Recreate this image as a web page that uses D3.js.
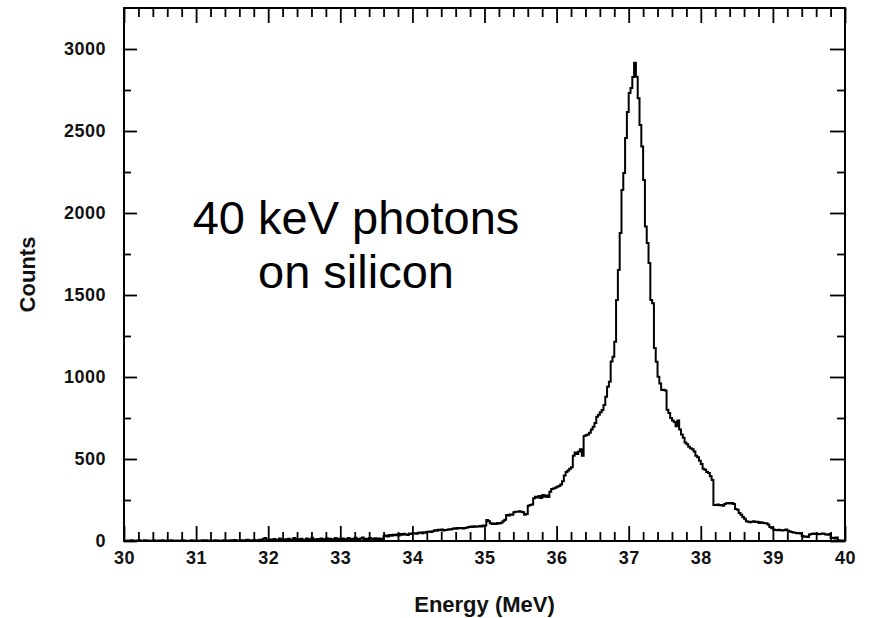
<!DOCTYPE html>
<html>
<head>
<meta charset="utf-8">
<script src="https://cdn.jsdelivr.net/npm/d3@7"></script>
<style>
  html, body { margin: 0; padding: 0; background: #ffffff; }
  svg { display: block; }
  .tick text { font-family: "Liberation Sans", Arial, sans-serif; font-weight: bold; font-size: 18px; fill: #111; letter-spacing: 0.5px; }
</style>
</head>
<body>
<svg id="chart" width="869" height="618"></svg>
<script>
// ---- data ----
const binLow = 30;       // MeV, lower edge of first bin
const binStep = 0.025;   // MeV, bin width
const counts3031 = [2,0,3,1,4,2,0,3,5,1, 2,4,0,3,1,2,5,0,2,3, 1,4,2,0,3,2,5,1,0,3, 2,1,4,3,0,2,1,5,3,2];
const counts3132 = [3,1,0,4,2,5,1,3,0,2, 4,1,3,2,0,5,2,3,1,4, 2,6,3,1,4,2,5,3,7,2, 4,3,6,2,5,8,4,14,18,6];
const counts3233 = [5,9,3,12,7,4,15,8,6,11, 3,14,9,5,18,7,10,4,13,8, 6,16,5,11,20,9,4,12,7,15, 10,6,17,8,13,5,11,19,9,14];
const counts3334 = [8,16,11,6,18,10,13,7,20,12, 9,15,22,11,14,8,19,13,10,17, 12,16,9,14,30,34,28,36,32,38, 35,40,33,42,38,44,40,37,45,42];
const counts3435 = [45,48,44,50,52,47,53,50,56,58, 55,60,65,62,68,66,70,64,67,69, 72,70,75,78,74,80,77,79,76,80, 82,86,88,85,90,87,89,92,88,95];
const counts3536 = [95,128,120,108,104,106,104,110,106,112, 120,130,159,155,162,160,175,179,178,182, 179,175,160,165,215,219,222,260,270,265, 275,262,280,270,278,268,300,317,320,325];
const counts3637 = [331,335,345,365,400,420,430,440,450,520, 540,530,545,560,520,640,645,650,660,680, 697,720,758,770,785,799,829,880,941,971, 1094,1124,1215,1470,1652,1878,2140,2244,2457,2616];
const counts3738 = [2732,2762,2829,2916,2831,2699,2537,2405,2201,1917, 1817,1695,1470,1450,1177,1093,1002,960,920,922, 918,800,780,750,735,725,700,735,680,650, 630,600,590,575,565,560,545,520,510,490];
const counts3839 = [470,440,435,420,415,395,372,219,219,222, 218,220,215,225,230,232,228,231,226,195, 190,171,160,146,135,120,118,115,118,120, 116,118,110,115,112,108,108,100,85,80];
const counts3940 = [70,67,65,68,66,64,67,70,62,58, 55,52,50,48,49,45,30,26,28,25, 40,43,45,42,44,41,43,45,44,40, 38,42,18,20,15,22,5,0,3,0];

const xMajorTicks = [30,31,32,33,34,35,36,37,38,39,40];
const yMajorTicks = [0,500,1000,1500,2000,2500,3000];
const xMinorTicks = d3.range(30, 40.0001, 0.2).filter(v => Math.abs(v - Math.round(v)) > 1e-6);
const yMinorTicks = [250,750,1250,1750,2250,2750];
const xTitle = "Energy (MeV)";
const yTitle = "Counts";
const noteLines = ["40 keV photons", "on silicon"];

// ---- build ----
const counts = [].concat(counts3031, counts3132, counts3233, counts3334, counts3435,
                         counts3536, counts3637, counts3738, counts3839, counts3940);
const pts = counts.map((c, i) => [binLow + i * binStep, c]);
pts.push([binLow + counts.length * binStep, counts[counts.length - 1]]);

const svg = d3.select("#chart");
const L = 124, R = 845, T = 8, B = 541;
const x = d3.scaleLinear().domain([30, 40]).range([L, R]);
const y = d3.scaleLinear().domain([0, 3250]).range([B, T]);

function styleAxis(g) {
  g.select(".domain").remove();
  g.selectAll(".tick line").attr("stroke", "#000").attr("stroke-width", 1.8);
}

// bottom
svg.append("g").attr("transform", `translate(0,${B})`)
  .call(d3.axisBottom(x).tickValues(xMinorTicks).tickSize(-9).tickFormat(""))
  .call(styleAxis);
svg.append("g").attr("transform", `translate(0,${B})`)
  .call(d3.axisBottom(x).tickValues(xMajorTicks).tickSize(-15).tickPadding(10).tickFormat(d3.format("d")))
  .call(styleAxis);
// top
svg.append("g").attr("transform", `translate(0,${T})`)
  .call(d3.axisTop(x).tickValues(xMinorTicks).tickSize(-9).tickFormat(""))
  .call(styleAxis);
svg.append("g").attr("transform", `translate(0,${T})`)
  .call(d3.axisTop(x).tickValues(xMajorTicks).tickSize(-15).tickFormat(""))
  .call(styleAxis);
// left
svg.append("g").attr("transform", `translate(${L},0)`)
  .call(d3.axisLeft(y).tickValues(yMinorTicks).tickSize(-7).tickFormat(""))
  .call(styleAxis);
svg.append("g").attr("transform", `translate(${L},0)`)
  .call(d3.axisLeft(y).tickValues(yMajorTicks).tickSize(-13).tickPadding(18).tickFormat(d3.format("d")))
  .call(styleAxis);
// right
svg.append("g").attr("transform", `translate(${R},0)`)
  .call(d3.axisRight(y).tickValues(yMinorTicks).tickSize(-8).tickFormat(""))
  .call(styleAxis);
svg.append("g").attr("transform", `translate(${R},0)`)
  .call(d3.axisRight(y).tickValues(yMajorTicks).tickSize(-15).tickFormat(""))
  .call(styleAxis);

// frame
svg.append("rect").attr("x", L).attr("y", T).attr("width", R - L).attr("height", B - T)
  .attr("fill", "none").attr("stroke", "#000").attr("stroke-width", 2);

// histogram
const line = d3.line().x(d => x(d[0])).y(d => y(d[1])).curve(d3.curveStepAfter);
svg.append("path").datum(pts).attr("d", line)
  .attr("fill", "none").attr("stroke", "#000").attr("stroke-width", 2).attr("stroke-linejoin", "miter");

// titles
svg.append("text").attr("x", (L + R) / 2).attr("y", 612).attr("text-anchor", "middle")
  .style("font-family", "'Liberation Sans', Arial, sans-serif").style("font-weight", "bold")
  .style("font-size", "22px").style("fill", "#111").text(xTitle);
svg.append("text").attr("transform", `translate(35,${(T + B) / 2}) rotate(-90)`).attr("text-anchor", "middle")
  .style("font-family", "'Liberation Sans', Arial, sans-serif").style("font-weight", "bold")
  .style("font-size", "22px").style("fill", "#111").text(yTitle);

// annotation
noteLines.forEach((t, i) => {
  svg.append("text").attr("x", 356).attr("y", 234 + i * 54).attr("text-anchor", "middle")
    .style("font-family", "'Liberation Sans', Arial, sans-serif")
    .style("font-size", "47px").style("fill", "#000").text(t);
});
</script>
</body>
</html>
